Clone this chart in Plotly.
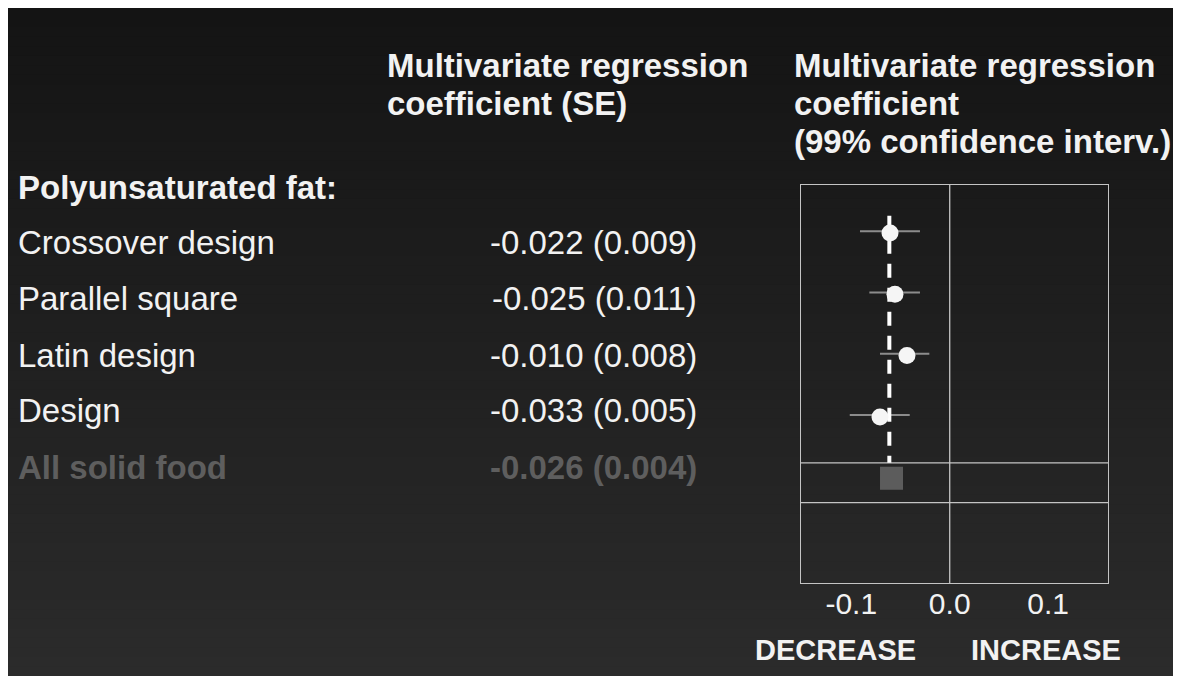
import plotly.graph_objects as go

# The page body keeps its default 8px margin (white frame top/left),
# so the figure is sized to fit inside the 1181x684 window without scrollbars.
OFF = 8
W, H = 1181 - 2 * OFF, 684 - 2 * OFF

# ---------------- data ----------------
row_labels = ["Crossover design", "Parallel square", "Latin design", "Design", "All solid food"]
coef_text = ["-0.022 (0.009)", "-0.025 (0.011)", "-0.010 (0.008)", "-0.033 (0.005)", "-0.026 (0.004)"]
# plotted positions
est = [-0.0606, -0.0556, -0.0434, -0.0708]
ci_low = [-0.0911, -0.0816, -0.0708, -0.1015]
ci_high = [-0.0302, -0.0302, -0.0207, -0.0406]
rows = [1, 2, 3, 4]
pooled_est = -0.0591
pooled_row = 5
ref_line_x = -0.0613
tick_vals = [-0.1, 0.0, 0.1]
tick_text = ["-0.1", "0.0", "0.1"]

FONT = "Arial, Liberation Sans, sans-serif"
WHITE = "#f2f2f2"
GREY_TXT = "#5e5e5e"


def px(x):
    return (x - OFF) / W


def py(y):
    return 1 - (y - OFF) / H


fig = go.Figure()

# whiskers (99% CI)
wx, wy = [], []
for lo, hi, r in zip(ci_low, ci_high, rows):
    wx += [lo, hi, None]
    wy += [r - 0.03, r - 0.03, None]
fig.add_trace(go.Scatter(x=wx, y=wy, mode="lines",
                         line=dict(color="#8c8c8c", width=2), hoverinfo="skip"))

# dashed pooled line
fig.add_trace(go.Scatter(x=[ref_line_x, ref_line_x], y=[0.72, 4.75], mode="lines",
                         line=dict(color="white", width=4, dash="14px,10px"), hoverinfo="skip"))

# point estimates
fig.add_trace(go.Scatter(x=est, y=rows, mode="markers",
                         marker=dict(symbol="circle", size=17, color="#f5f5f5",
                                     line=dict(width=0))))
# pooled estimate
fig.add_trace(go.Scatter(x=[pooled_est], y=[pooled_row], mode="markers",
                         marker=dict(symbol="square", size=23, color="#5c5c5c",
                                     line=dict(width=0))))

shapes = []
# background vertical gradient: stacked rects, each reaching the bottom
n = 70
c0, c1 = 0x14, 0x2b
for i in range(n):
    t0 = i / n
    c = int(round(c0 + (c1 - c0) * (i + 0.5) / n))
    col = "#%02x%02x%02x" % (c, c, c)
    shapes.append(dict(type="rect", xref="paper", yref="paper", x0=-0.01, x1=1.01,
                       y0=-0.01, y1=1 - t0 + (0.01 if i == 0 else 0), fillcolor=col,
                       line=dict(width=0), layer="below"))

BOX = "#c4c4c4"
# zero line
shapes.append(dict(type="line", xref="x", yref="y domain", x0=0, x1=0, y0=0, y1=1,
                   line=dict(color=BOX, width=1.3), layer="below"))
# horizontal separators
for yy in [4.75, 5.40]:
    shapes.append(dict(type="line", xref="x domain", yref="y", x0=0, x1=1, y0=yy, y1=yy,
                       line=dict(color=BOX, width=1.3), layer="below"))

ann = []


def text(x, y, s, size=33, bold=False, color=WHITE, xanchor="left"):
    ann.append(dict(x=px(x), y=py(y), xref="paper", yref="paper", text=s, showarrow=False,
                    xanchor=xanchor, yanchor="middle",
                    font=dict(family=FONT, size=size, color=color,
                              weight="bold" if bold else "normal")))


# headers
text(385, 66, "Multivariate regression", bold=True)
text(385, 103, "coefficient (SE)", bold=True)
text(792, 66, "Multivariate regression", bold=True)
text(792, 103, "coefficient", bold=True)
text(792, 141, "(99% confidence interv.)", bold=True)

text(16, 187, "Polyunsaturated fat:", bold=True)
row_y = [242, 298, 355, 410, 467]
for i, (lab, ct, yy) in enumerate(zip(row_labels, coef_text, row_y)):
    last = i == len(row_labels) - 1
    text(16, yy, lab, bold=last, color=GREY_TXT if last else WHITE)
    text(699, yy, ct, bold=last, color=GREY_TXT if last else WHITE, xanchor="right")

text(836, 650, "DECREASE", size=29, bold=True, xanchor="center")
text(1046, 650, "INCREASE", size=29, bold=True, xanchor="center")

fig.update_layout(
    width=W, height=H,
    margin=dict(l=0, r=0, t=0, b=0),
    paper_bgcolor="#202020",
    plot_bgcolor="rgba(0,0,0,0)",
    showlegend=False,
    shapes=shapes,
    annotations=ann,
    xaxis=dict(domain=[px(800.7), px(1108)], range=[-0.1513, 0.1607],
               showgrid=False, zeroline=False, showline=True, mirror=True,
               linecolor=BOX, linewidth=1.3,
               tickvals=tick_vals, ticktext=tick_text, ticks="",
               ticklabelstandoff=-6,
               tickfont=dict(family=FONT, size=30, color=WHITE)),
    yaxis=dict(domain=[py(583), py(185)], range=[6.71, 0.217],
               showgrid=False, zeroline=False, showline=True, mirror=True,
               linecolor=BOX, linewidth=1.3, showticklabels=False, ticks=""),
)

fig.write_html("out.html")
